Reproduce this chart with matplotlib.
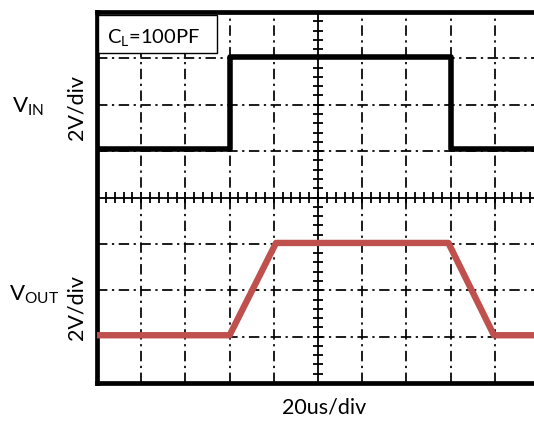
import numpy as np
import matplotlib.pyplot as plt
from matplotlib.patches import Rectangle

plt.rcParams['font.family'] = ['Lato', 'DejaVu Sans']
plt.rcParams['mathtext.default'] = 'regular'

# scope traces, x in divisions (20us/div), y in divisions (2V/div)
t_in = [0.0, 3.0, 3.0, 8.0, 8.0, 9.9]
v_in = [5.05, 5.05, 7.03, 7.03, 5.05, 5.05]
t_out = [0.0, 3.0, 4.05, 7.95, 8.98, 9.9]
v_out = [1.03, 1.03, 3.02, 3.02, 1.03, 1.03]

W, H = 534, 421
fig = plt.figure(figsize=(W / 100, H / 100), dpi=100)
x0, x1, y0, y1 = 97, 534, 12, 383
ax = fig.add_axes([x0 / W, 1 - y1 / H, (x1 - x0) / W, (y1 - y0) / H])
ax.set_xlim(0, (x1 - x0) / 44.2)
ax.set_ylim(0, 8)
ax.set_xticks([])
ax.set_yticks([])
for s in ['left', 'top', 'bottom']:
    ax.spines[s].set_linewidth(3.4)
ax.spines['right'].set_visible(False)

# graticule
dash = (0, (6.0, 2.6, 1.3, 2.6))
for gx in [1, 2, 3, 4, 6, 7, 8, 9]:
    ax.axvline(gx, color='black', lw=1.25, ls=dash, zorder=1)
for gy in [1, 2, 3, 5, 6, 7]:
    ax.axhline(gy, color='black', lw=1.25, ls=dash, zorder=1)

# center axes with minor ticks
ax.axhline(4, color='black', lw=1.3, zorder=1)
ax.axvline(5, color='black', lw=1.3, zorder=1)
mx = np.arange(0.2, 10, 0.2)
ax.vlines(mx, 4 - 0.11, 4 + 0.11, color='black', lw=1.3, zorder=1)
my = np.arange(0.2, 8, 0.2)
ax.hlines(my, 5 - 0.115, 5 + 0.115, color='black', lw=1.3, zorder=1)

ax.plot(t_in, v_in, color='black', lw=4.0, zorder=3)
ax.plot(t_out, v_out, color='#C0504D', lw=4.6, zorder=3)

# load label box
ax.add_patch(Rectangle((0.02, (y1 - 53) / 46.4), 2.7, (53 - 15) / 46.4,
                       facecolor='white', edgecolor='black', lw=1.0, zorder=4))
ax.text(0.22, (y1 - 37) / 46.4, 'C$_L$=100PF', fontsize=14.5,
        va='center', ha='left', zorder=5)

def fx(px):
    return px / W

def fy(py):
    return 1 - py / H

fig.text(fx(12), fy(107), 'V$_{IN}$', fontsize=16, va='center', ha='left')
fig.text(fx(9), fy(295), 'V$_{OUT}$', fontsize=16, va='center', ha='left')
fig.text(fx(77), fy(107), '2V/div', fontsize=15.5, rotation=90, va='center', ha='center')
fig.text(fx(77), fy(308), '2V/div', fontsize=15.5, rotation=90, va='center', ha='center')
fig.text(fx(324), fy(407), '20us/div', fontsize=15.5, va='center', ha='center')

fig.savefig('out.png', dpi=100)
